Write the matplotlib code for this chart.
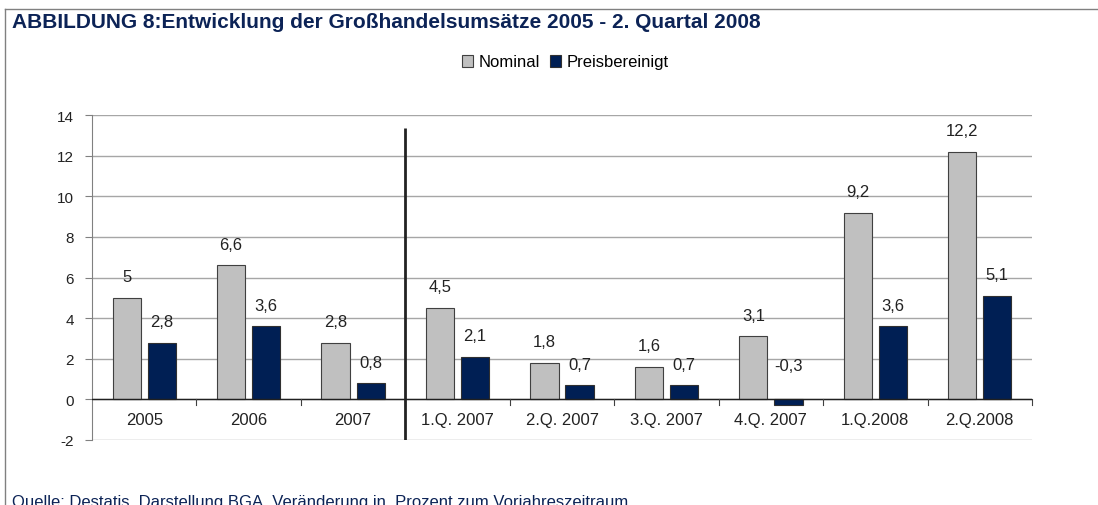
import matplotlib.pyplot as plt
import numpy as np

# data
categories = ['2005', '2006', '2007', '1.Q. 2007', '2.Q. 2007', '3.Q. 2007',
              '4.Q. 2007', '1.Q.2008', '2.Q.2008']
nominal = [5.0, 6.6, 2.8, 4.5, 1.8, 1.6, 3.1, 9.2, 12.2]
preisbereinigt = [2.8, 3.6, 0.8, 2.1, 0.7, 0.7, -0.3, 3.6, 5.1]
y_ticks = [-2, 0, 2, 4, 6, 8, 10, 12, 14]

plt.rcParams['font.family'] = ['Liberation Sans', 'DejaVu Sans']

navy = '#0c2356'
text_col = '#222222'

fig = plt.figure(figsize=(10.98, 5.06), dpi=100)

# outer frame (open to the right and bottom like the cropped original)
fig.add_artist(plt.Line2D([5 / 1098, 1.0], [1 - 10 / 506, 1 - 10 / 506],
                          color='#808080', lw=1, transform=fig.transFigure))
fig.add_artist(plt.Line2D([5 / 1098, 5 / 1098], [0, 1 - 10 / 506],
                          color='#808080', lw=1, transform=fig.transFigure))

fig.text(12 / 1098, 1 - 23 / 506,
         'ABBILDUNG 8:Entwicklung der Großhandelsumsätze 2005 - 2. Quartal 2008',
         fontsize=15, fontweight='bold', color=navy, va='center', ha='left')

fig.text(12 / 1098, 1 - 495 / 506,
         'Quelle: Destatis, Darstellung BGA, Veränderung in  Prozent zum Vorjahreszeitraum',
         fontsize=12, color=navy, va='top', ha='left')

ax = fig.add_axes([92 / 1098, 1 - 441 / 506, 940 / 1098, 325 / 506])

x = np.arange(len(categories))
w = 0.27
off = 0.168
b1 = ax.bar(x - off, nominal, w, color='#c0c0c0', edgecolor='#404040',
            linewidth=0.8, label='Nominal', zorder=3)
b2 = ax.bar(x + off, preisbereinigt, w, color='#001f54', edgecolor='#303030',
            linewidth=0.8, label='Preisbereinigt', zorder=3)


def fmt(v):
    return ('%g' % v).replace('.', ',')


# value labels above the bars (negative value label sits above the zero line)
for xs, vals in ((x - off, nominal), (x + off, preisbereinigt)):
    for xi, v in zip(xs, vals):
        ax.annotate(fmt(v), (xi, max(v, 0)), xytext=(0, 21 if v >= 0 else 34),
                    textcoords='offset pixels',
                    ha='center', va='center', fontsize=12, color=text_col)

ax.set_xlim(-0.5, len(categories) - 0.5)
ax.set_ylim(-2, 14)
ax.set_yticks(y_ticks)
ax.set_yticklabels([str(t) for t in y_ticks], fontsize=11, color=text_col)
ax.yaxis.grid(True, color='#a6a6a6', lw=1, zorder=0)
ax.set_axisbelow(True)

for s in ('top', 'right', 'bottom'):
    ax.spines[s].set_visible(False)
ax.spines['left'].set_color('#808080')
ax.tick_params(axis='y', length=5, color='#808080', pad=8)

# category axis at zero with ticks between groups
ax.axhline(0, color='#202020', lw=1, zorder=4)
ax.set_xticks([])
for b in np.arange(0.5, len(categories) - 0.5 + 1, 1.0):
    ax.plot([b, b], [0, -0.27], color='#404040', lw=0.8, zorder=4,
            clip_on=False)
for xi, c in zip(x, categories):
    ax.text(xi, -1.0, c, ha='center', va='center', fontsize=12, color=text_col)

# separator between years and quarters
ax.vlines(2.5, -2, 13.35, color='#222222', lw=2, zorder=5)

fig.legend(handles=[b1, b2], labels=['Nominal', 'Preisbereinigt'],
           loc='center', bbox_to_anchor=(565 / 1098, 1 - 63 / 506),
           ncol=2, frameon=False, fontsize=12, handlelength=0.7,
           handleheight=0.7, handletextpad=0.3, columnspacing=0.6)

fig.savefig('out.png', dpi=100)
